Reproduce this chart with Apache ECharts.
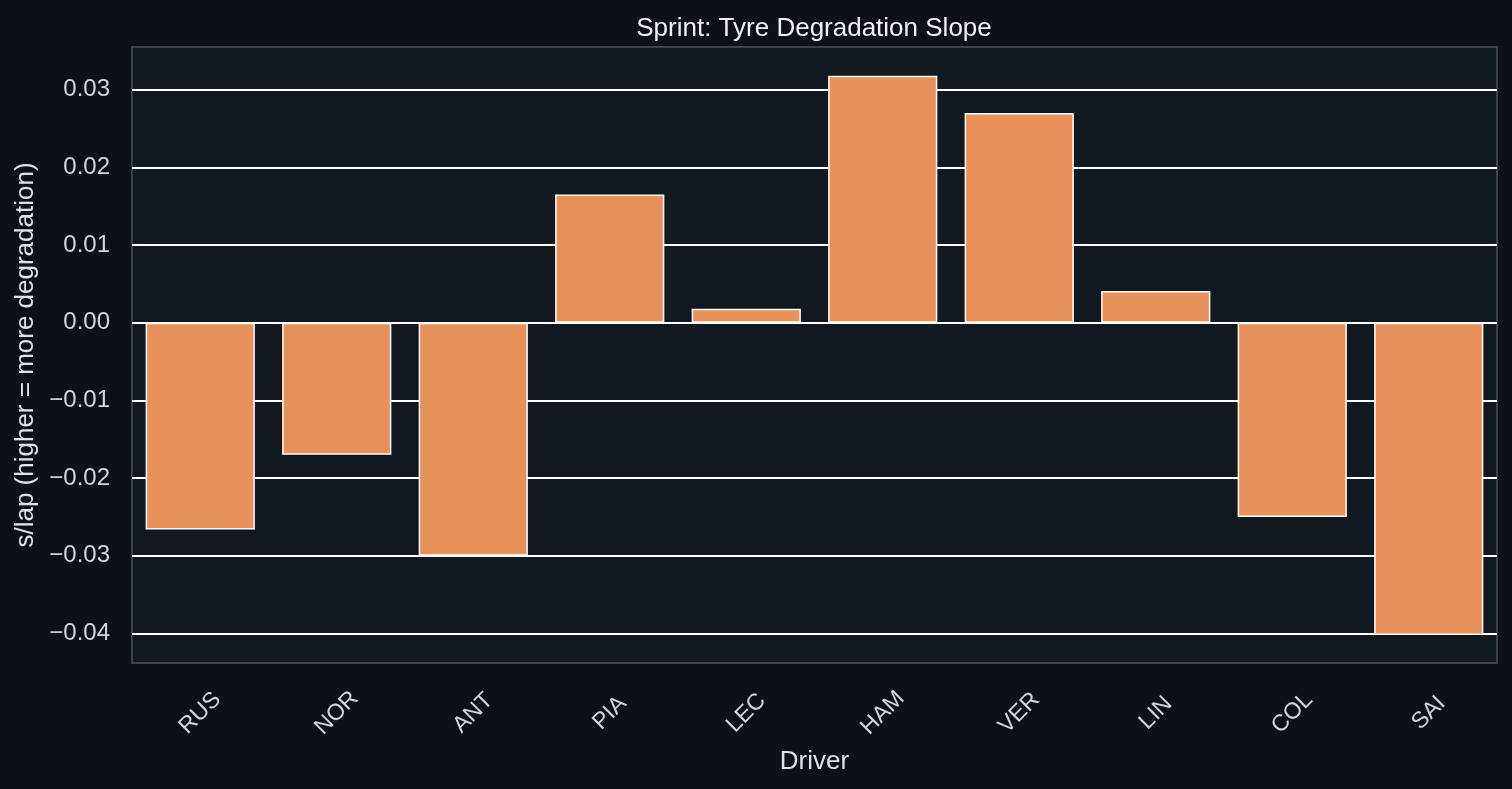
<!DOCTYPE html>
<html>
<head>
<meta charset="utf-8">
<script src="https://cdn.jsdelivr.net/npm/echarts@6/dist/echarts.min.js"></script>
<style>
  html, body { margin: 0; padding: 0; background: #0d1017; }
  #chart { width: 1512px; height: 789px; }
</style>
</head>
<body>
<div id="chart"></div>
<script>
const drivers = ['RUS', 'NOR', 'ANT', 'PIA', 'LEC', 'HAM', 'VER', 'LIN', 'COL', 'SAI']
const slopes = [-0.0266, -0.0170, -0.0300, 0.0165, 0.0018, 0.0318, 0.0270, 0.0041, -0.0250, -0.0402]
const yTicks = [-0.04, -0.03, -0.02, -0.01, 0, 0.01, 0.02, 0.03]

const chart = echarts.init(document.getElementById('chart'))

const option = {
  backgroundColor: '#0d1017',
  animation: false,
  textStyle: { fontFamily: 'Liberation Sans, Arial, sans-serif' },
  title: {
    text: 'Sprint: Tyre Degradation Slope',
    left: 809,
    top: 11,
    textAlign: 'center',
    textStyle: { color: '#eef0f4', fontSize: 26, fontWeight: 'normal' }
  },
  grid: {
    left: 132,
    right: 15,
    top: 47,
    bottom: 126,
    outerBoundsMode: 'none',
    containLabel: false,
    show: true,
    backgroundColor: '#121820',
    borderColor: '#3b4250',
    borderWidth: 2
  },
  xAxis: {
    type: 'category',
    data: drivers,
    name: 'Driver',
    nameLocation: 'middle',
    nameGap: 86,
    nameTextStyle: { color: '#dde1e8', fontSize: 26 },
    axisLine: { show: false },
    axisTick: { show: false },
    axisLabel: {
      rotate: 45,
      align: 'center',
      verticalAlign: 'middle',
      margin: 50,
      color: '#d0d5de',
      fontSize: 23
    }
  },
  yAxis: {
    type: 'value',
    min: -0.0438,
    max: 0.0355,
    name: 's/lap (higher = more degradation)',
    nameLocation: 'middle',
    nameGap: 88,
    nameTextStyle: { color: '#dde1e8', fontSize: 26 },
    axisLine: { show: false },
    axisTick: { show: false, customValues: yTicks },
    axisLabel: {
      customValues: yTicks,
      margin: 22,
      color: '#d0d5de',
      fontSize: 24,
      formatter: v => (v < 0 ? '\u2212' : '') + Math.abs(v).toFixed(2)
    },
    splitLine: { show: true, lineStyle: { color: '#ffffff', width: 2 } }
  },
  series: [{
    type: 'bar',
    data: slopes,
    barCategoryGap: '20%',
    itemStyle: {
      color: '#e8915a',
      borderColor: '#ffffff',
      borderWidth: 1.5
    }
  }]
}

chart.setOption(option)
</script>
</body>
</html>
